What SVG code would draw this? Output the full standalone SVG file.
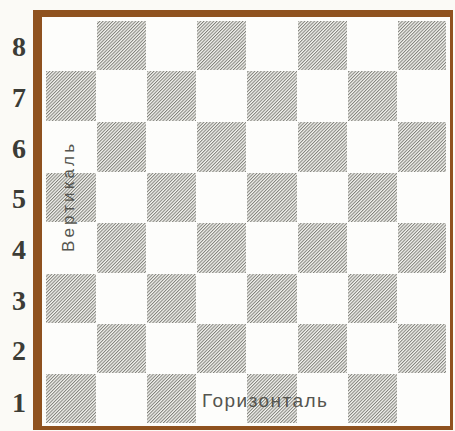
<svg xmlns="http://www.w3.org/2000/svg" width="455" height="431" viewBox="0 0 455 431">
  <defs>
    <pattern id="hatch" width="2.3" height="2.3" patternUnits="userSpaceOnUse" patternTransform="rotate(45)">
      <rect width="2.3" height="2.3" fill="#f4f4f0"/>
      <line x1="0.5" y1="0" x2="0.5" y2="2.3" stroke="#80807a" stroke-width="1"/>
    </pattern>
    <style>
      .dark { fill: url(#hatch); }
      .rank { font-family: "Liberation Serif", "DejaVu Serif", serif; font-weight: bold; font-size: 28px; fill: #3c3c36; text-anchor: middle; }
      .lbl { font-family: "Liberation Sans", Arial, sans-serif; fill: #55554f; }
    </style>
  </defs>
  <rect width="455" height="431" fill="#fbfaf6"/>
  <g id="frame">
    <rect x="33" y="10" width="420" height="420" fill="#8f521f"/>
    <rect x="42" y="17" width="408" height="409" fill="#fdfdfb"/>
  </g>
  <g id="squares">
    <!-- rank 8 -->
    <rect class="dark" x="97" y="21" width="49" height="49"/>
    <rect class="dark" x="197" y="21" width="49" height="49"/>
    <rect class="dark" x="298" y="21" width="49" height="49"/>
    <rect class="dark" x="398" y="21" width="48" height="49"/>
    <!-- rank 7 -->
    <rect class="dark" x="46" y="71" width="50" height="50"/>
    <rect class="dark" x="147" y="71" width="49" height="50"/>
    <rect class="dark" x="247" y="71" width="50" height="50"/>
    <rect class="dark" x="348" y="71" width="49" height="50"/>
    <!-- rank 6 -->
    <rect class="dark" x="97" y="122" width="49" height="50"/>
    <rect class="dark" x="197" y="122" width="49" height="50"/>
    <rect class="dark" x="298" y="122" width="49" height="50"/>
    <rect class="dark" x="398" y="122" width="48" height="50"/>
    <!-- rank 5 -->
    <rect class="dark" x="46" y="173" width="50" height="49"/>
    <rect class="dark" x="147" y="173" width="49" height="49"/>
    <rect class="dark" x="247" y="173" width="50" height="49"/>
    <rect class="dark" x="348" y="173" width="49" height="49"/>
    <!-- rank 4 -->
    <rect class="dark" x="97" y="223" width="49" height="50"/>
    <rect class="dark" x="197" y="223" width="49" height="50"/>
    <rect class="dark" x="298" y="223" width="49" height="50"/>
    <rect class="dark" x="398" y="223" width="48" height="50"/>
    <!-- rank 3 -->
    <rect class="dark" x="46" y="274" width="50" height="49"/>
    <rect class="dark" x="147" y="274" width="49" height="49"/>
    <rect class="dark" x="247" y="274" width="50" height="49"/>
    <rect class="dark" x="348" y="274" width="49" height="49"/>
    <!-- rank 2 -->
    <rect class="dark" x="97" y="324" width="49" height="49"/>
    <rect class="dark" x="197" y="324" width="49" height="49"/>
    <rect class="dark" x="298" y="324" width="49" height="49"/>
    <rect class="dark" x="398" y="324" width="48" height="49"/>
    <!-- rank 1 -->
    <rect class="dark" x="46" y="374" width="50" height="49"/>
    <rect class="dark" x="147" y="374" width="49" height="49"/>
    <rect class="dark" x="247" y="374" width="50" height="49"/>
    <rect class="dark" x="348" y="374" width="49" height="49"/>
  </g>
  <g id="ranks">
    <text class="rank" x="19" y="56">8</text>
    <text class="rank" x="19" y="107">7</text>
    <text class="rank" x="19" y="158">6</text>
    <text class="rank" x="19" y="208">5</text>
    <text class="rank" x="19" y="259">4</text>
    <text class="rank" x="19" y="310">3</text>
    <text class="rank" x="19" y="360">2</text>
    <text class="rank" x="19" y="412">1</text>
  </g>
  <g id="labels">
    <text class="lbl" x="202" y="407" font-size="19" textLength="125" lengthAdjust="spacing">Горизонталь</text>
    <text class="lbl" transform="translate(74 252) rotate(-90)" x="0" y="0" font-size="17" textLength="108" lengthAdjust="spacing">Вертикаль</text>
  </g>
</svg>
